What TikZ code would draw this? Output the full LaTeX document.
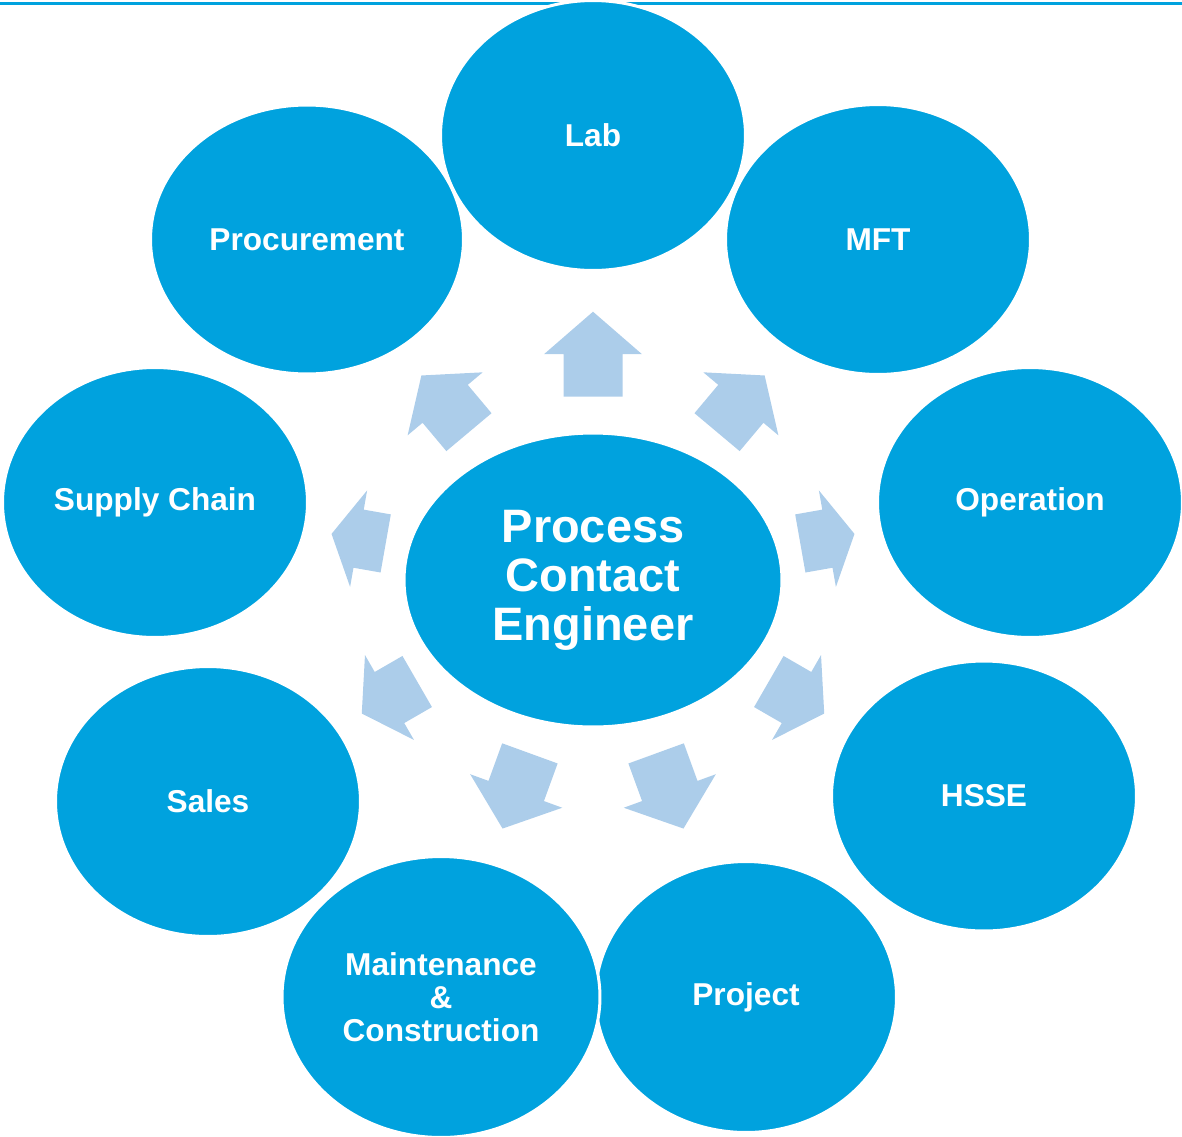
\documentclass[tikz,border=0pt]{standalone}
\usepackage{fontspec}
\setmainfont{Liberation Sans}
\usetikzlibrary{shapes.geometric}
\definecolor{bubbleblue}{RGB}{0,162,222}
\definecolor{spokeblue}{RGB}{172,205,234}

\begin{document}
\begin{tikzpicture}[x=0.02cm,y=0.02cm,
	bubble/.style={ellipse,draw=white,line width=1.7pt,fill=bubbleblue,text=white,inner sep=0pt,align=center,font=\bfseries\fontsize{18}{18.7}\selectfont,minimum width=6.1cm,minimum height=5.4cm},
	hub/.style={bubble,minimum width=7.56cm,minimum height=5.88cm,font=\bfseries\fontsize{26.7}{27.8}\selectfont},
	spoke/.style={fill=spokeblue}]
	\useasboundingbox (0,0) rectangle (1182,-1136);
	% rule along the top
	\coordinate (rule west) at (0,-3.5);
	\coordinate (rule east) at (1182,-3.5);
	\draw[bubbleblue,line width=1.7pt] (rule west) -- (rule east);
	% block arrows round the hub: angle / start radius / length
	\foreach \a/\r/\l in {90/183.3/85,50/193/74,10/210.5/55,-30/203/64,-70/184.5/80,-110/184.5/80,-150/203/64,170/210.5/55,130/193/74}
	{
		\fill[spoke,shift={(593,-580)},rotate=\a] (\r,-29.5) -- ({\r+\l/2},-29.5) -- ({\r+\l/2},-49) -- ({\r+\l},0) -- ({\r+\l/2},49) -- ({\r+\l/2},29.5) -- (\r,29.5) -- cycle;
	}
	% outer bubbles
	\node[bubble] (lab) at (593,-135.5) {Lab};
	\node[bubble] (mft) at (878,-239.5) {MFT};
	\node[bubble] (operation) at (1030,-502.5) {Operation};
	\node[bubble] (hsse) at (984,-796) {HSSE};
	\node[bubble,minimum width=6.02cm,minimum height=5.42cm] (project) at (746,-997) {Project};
	\node[bubble,minimum width=6.36cm,minimum height=5.62cm] (maintenance) at (441,-997) {Maintenance\\\&\\Construction};
	\node[bubble] (sales) at (208,-801.5) {Sales};
	\node[bubble] (supply) at (155,-502.5) {Supply Chain};
	\node[bubble,minimum width=6.26cm,minimum height=5.38cm] (procurement) at (307,-239.5) {Procurement};
	% centre
	\node[hub] (pce) at (593,-580) {Process\\Contact\\Engineer};
\end{tikzpicture}
\end{document}
